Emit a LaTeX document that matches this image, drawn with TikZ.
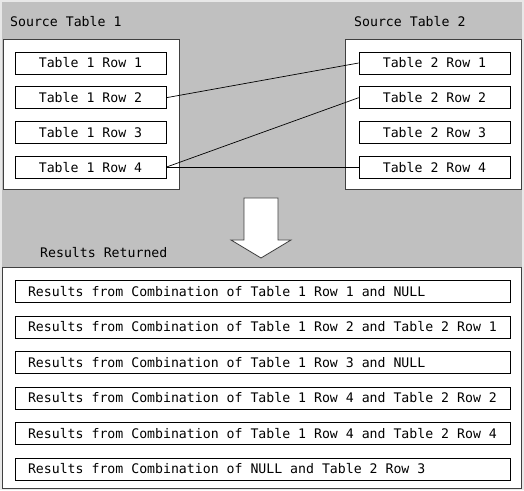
\documentclass[tikz,border=0pt]{standalone}
\usepackage{fontspec}
\setmonofont{DejaVu Sans Mono}
\usepackage{tikz}
\usetikzlibrary{positioning}
\definecolor{bggray}{RGB}{192,192,192}
\definecolor{rimgray}{RGB}{232,232,232}
\definecolor{edgegray}{RGB}{64,64,64}

\begin{document}
\begin{tikzpicture}[x=1pt, y=1pt, node distance=12pt and 0pt]
    \tikzset{
        backdrop/.style = {fill=bggray},
        tablebox/.style = {rectangle, draw=edgegray, fill=white, line width=0.8pt, minimum width=176pt, minimum height=150pt, inner sep=0pt},
        rowbox/.style = {rectangle, draw, fill=white, line width=0.7pt, minimum width=151pt, minimum height=22pt, inner sep=0pt, font=\ttfamily\fontsize{13.2}{15}\selectfont},
        resultbox/.style = {rectangle, draw, fill=white, line width=0.7pt, text width=469pt, inner xsep=13pt, inner ysep=0pt, minimum height=22pt, align=flush left, font=\ttfamily\fontsize{13.2}{15}\selectfont},
        label/.style = {inner sep=0pt, anchor=west, font=\ttfamily\fontsize{13.2}{15}\selectfont},
        blockarrow/.style = {draw=edgegray, fill=white, line width=0.8pt, line join=miter},
        line/.style = {draw, line width=0.7pt}
    }
    \fill[rimgray] (0,0) rectangle (524,490);
    \path[backdrop] (2,2) rectangle (522,488);
    \node[tablebox] (source1) at (91,376) {};
    \node[tablebox] (source2) at (433,376) {};
    \node[label] (title1) at (10,468) {Source Table 1};
    \node[label] (title2) at (354,468) {Source Table 2};

    \node[rowbox] (t1r1) at (90.5,427) {Table 1 Row 1};
    \node[rowbox, below=of t1r1] (t1r2) {Table 1 Row 2};
    \node[rowbox, below=of t1r2] (t1r3) {Table 1 Row 3};
    \node[rowbox, below=of t1r3] (t1r4) {Table 1 Row 4};
    \node[rowbox] (t2r1) at (434.5,427) {Table 2 Row 1};
    \node[rowbox, below=of t2r1] (t2r2) {Table 2 Row 2};
    \node[rowbox, below=of t2r2] (t2r3) {Table 2 Row 3};
    \node[rowbox, below=of t2r3] (t2r4) {Table 2 Row 4};

    \path[line] (t1r2.east) -- (t2r1.west);
    \path[line] (t1r4.east) -- (t2r2.west);
    \path[line] (t1r4.east) -- (t2r4.west);

    \draw[blockarrow] (244,292) -- (278,292) -- (278,250) -- (291,250) -- (261,232) -- (231,250) -- (244,250) -- cycle;

    \node[label] (title3) at (40,237) {Results Returned};
    \node[tablebox, minimum width=518.5pt, minimum height=221pt] (results) at (262,112.5) {};
    \node[resultbox] (res1) at (262.5,198.5) {Results from Combination of Table 1 Row 1 and NULL};
    \node[resultbox, below=12.8pt of res1] (res2) {Results from Combination of Table 1 Row 2 and Table 2 Row 1};
    \node[resultbox, below=12.8pt of res2] (res3) {Results from Combination of Table 1 Row 3 and NULL};
    \node[resultbox, below=12.8pt of res3] (res4) {Results from Combination of Table 1 Row 4 and Table 2 Row 2};
    \node[resultbox, below=12.8pt of res4] (res5) {Results from Combination of Table 1 Row 4 and Table 2 Row 4};
    \node[resultbox, below=12.8pt of res5] (res6) {Results from Combination of NULL and Table 2 Row 3};
\end{tikzpicture}
\end{document}
